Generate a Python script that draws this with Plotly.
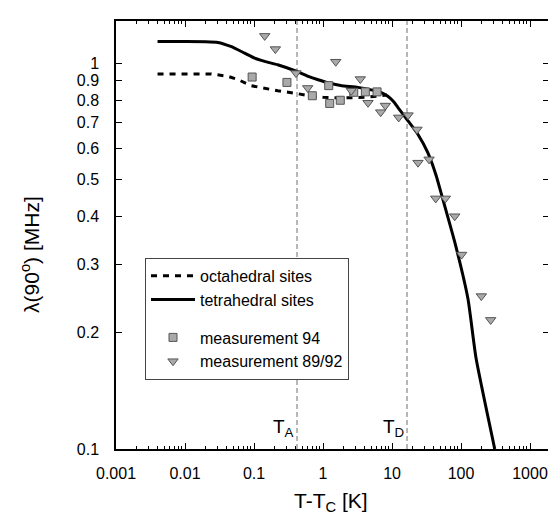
import numpy as np
import plotly.graph_objects as go

# ---- data ----
x_tetra = [0.004, 0.01, 0.02, 0.03, 0.046, 0.073, 0.102, 0.143, 0.22, 0.42, 0.61, 0.85, 1.2, 1.8,
           3.2, 5.0, 6.9, 8.7, 10.5, 12.2, 16.5, 23.8, 33, 43.8, 51, 81, 126, 165, 308]
y_tetra = [1.137, 1.137, 1.136, 1.131, 1.104, 1.061, 1.03, 1.01, 0.99, 0.951, 0.924, 0.905, 0.888, 0.875,
           0.865, 0.852, 0.84, 0.82, 0.795, 0.767, 0.714, 0.653, 0.586, 0.51, 0.463, 0.344, 0.245, 0.172, 0.1]

x_octa = [0.004, 0.01, 0.024, 0.042, 0.059, 0.09, 0.22, 0.42, 0.67, 1.0, 1.83, 4.0, 6.7, 8.5]
y_octa = [0.937, 0.937, 0.937, 0.924, 0.906, 0.874, 0.848, 0.834, 0.82, 0.815, 0.812, 0.815, 0.82, 0.826]

x_meas94 = [0.094, 0.30, 0.70, 1.21, 1.25, 1.78, 2.79, 4.11, 6.07]
y_meas94 = [0.92, 0.891, 0.823, 0.874, 0.786, 0.801, 0.84, 0.842, 0.842]

x_meas8992 = [0.143, 0.204, 0.406, 0.60, 1.53, 2.57, 3.47, 4.49, 6.85, 8.0, 12.5, 17.1, 23.0,
              23.8, 34.4, 43, 59.3, 81, 102, 197, 269]
y_meas8992 = [1.176, 1.087, 0.942, 0.862, 1.008, 0.848, 0.909, 0.789, 0.746, 0.776, 0.723, 0.733,
              0.673, 0.552, 0.563, 0.446, 0.446, 0.401, 0.319, 0.249, 0.216]

T_A = 0.42
T_D = 16.5

x_tickvals = [0.001, 0.01, 0.1, 1, 10, 100, 1000]
x_ticktext = ["0.001", "0.01", "0.1", "1", "10", "100", "1000"]
y_tickvals = [0.1, 0.2, 0.3, 0.4, 0.5, 0.6, 0.7, 0.8, 0.9, 1.0]
y_ticktext = ["0.1", "0.2", "0.3", "0.4", "0.5", "0.6", "0.7", "0.8", "0.9", "1"]

x_minor = [m * 10.0 ** e for e in range(-3, 4) for m in range(2, 10)]

FONT = "Liberation Sans, Arial, Helvetica, sans-serif"
y_lo, y_hi = 0.1, 10 ** 0.109

fig = go.Figure()

# vertical reference lines
for tv in (T_A, T_D):
    fig.add_trace(go.Scatter(x=[tv, tv], y=[y_lo, y_hi], mode="lines",
                             line=dict(color="#707070", width=1, dash="5px,3px"),
                             showlegend=False, hoverinfo="skip"))

fig.add_trace(go.Scatter(x=x_octa, y=y_octa, mode="lines", name="octahedral sites",
                         line=dict(color="black", width=3, dash="6px,6px"),
                         legendgroup="lines"))
fig.add_trace(go.Scatter(x=x_tetra, y=y_tetra, mode="lines", name="tetrahedral sites",
                         line=dict(color="black", width=3, shape="spline", smoothing=0.5),
                         legendgroup="lines"))
fig.add_trace(go.Scatter(x=x_meas94, y=y_meas94, mode="markers", name="measurement 94",
                         marker=dict(symbol="square", size=8, color="#a9a9a9",
                                     line=dict(color="#555555", width=1)),
                         legendgroup="meas"))
fig.add_trace(go.Scatter(x=x_meas8992, y=y_meas8992, mode="markers", name="measurement 89/92",
                         marker=dict(symbol="triangle-down", size=9, color="#a9a9a9",
                                     line=dict(color="#555555", width=1)),
                         legendgroup="meas"))

axis_common = dict(showline=True, linecolor="black", linewidth=1.5, mirror="ticks",
                   ticks="inside", ticklen=6, tickcolor="black", tickwidth=1,
                   showgrid=False, zeroline=False,
                   tickfont=dict(family=FONT, size=16, color="black"))

fig.update_xaxes(type="log", range=[-3, 3.275], tickvals=x_tickvals, ticktext=x_ticktext,
                 minor=dict(tickvals=x_minor, ticks="inside", ticklen=3, tickcolor="black"),
                 ticklabelstandoff=9, **axis_common)
fig.update_yaxes(type="log", range=[-1, 0.109], tickvals=y_tickvals, ticktext=y_ticktext,
                 ticklabelstandoff=12, **axis_common)

fig.add_annotation(text="T<sub>A</sub>", x=np.log10(T_A), xref="x", xanchor="right", xshift=-1,
                   y=0.016, yref="paper", yanchor="bottom", showarrow=False,
                   font=dict(family=FONT, size=19, color="black"))
fig.add_annotation(text="T<sub>D</sub>", x=np.log10(T_D), xref="x", xanchor="right", xshift=-1,
                   y=0.016, yref="paper", yanchor="bottom", showarrow=False,
                   font=dict(family=FONT, size=19, color="black"))
fig.add_annotation(text="λ(90<sup>o</sup>) [MHz]", x=-0.1986, xref="paper", xanchor="center",
                   y=0.4535, yref="paper", yanchor="middle", textangle=-90, showarrow=False,
                   font=dict(family=FONT, size=21, color="black"))
fig.add_annotation(text="T-T<sub>C</sub> [K]", x=0.497, xref="paper", xanchor="center",
                   y=-0.088, yref="paper", yanchor="top", showarrow=False,
                   font=dict(family=FONT, size=21, color="black"))

fig.update_layout(
    width=556, height=516,
    margin=dict(l=108, r=15, t=11, b=75),
    paper_bgcolor="white", plot_bgcolor="white",
    font=dict(family=FONT, size=16, color="black"),
    legend=dict(x=0.067, y=0.4465, xanchor="left", yanchor="top",
                bgcolor="white", bordercolor="#444444", borderwidth=1,
                tracegroupgap=14, traceorder="grouped",
                itemwidth=44, entrywidth=232, entrywidthmode="pixels",
                font=dict(family=FONT, size=16, color="black")),
)

fig.write_html("out.html")
